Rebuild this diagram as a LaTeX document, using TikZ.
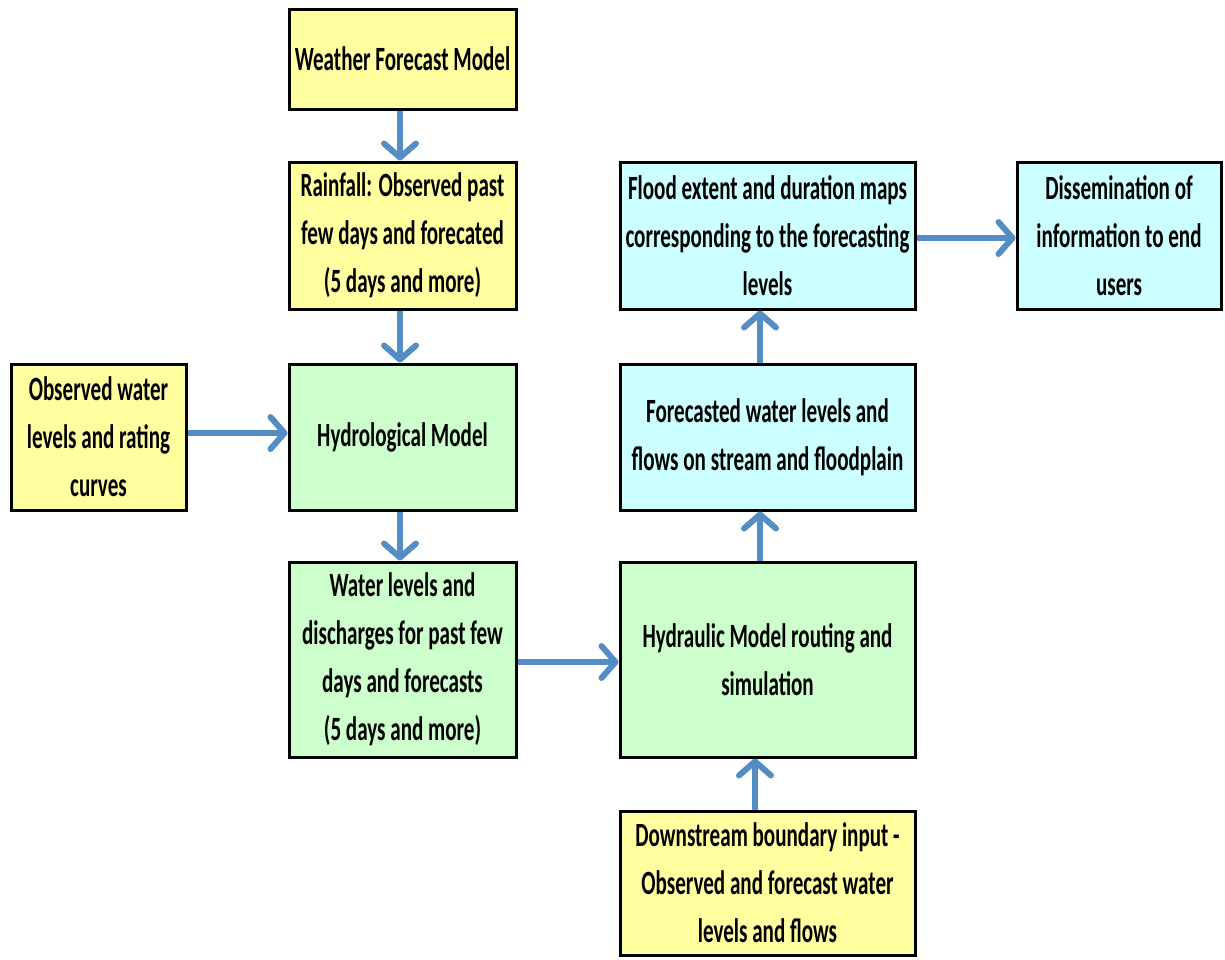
\documentclass[tikz,border=0pt]{standalone}
\usepackage{fontspec}
\newfontfamily\boxfont{Carlito}[FakeStretch=0.62]
\usetikzlibrary{arrows.meta}
\definecolor{boxyellow}{RGB}{255,255,160}
\definecolor{boxgreen}{RGB}{204,255,204}
\definecolor{boxcyan}{RGB}{204,255,255}
\definecolor{flowblue}{RGB}{84,141,196}
\begin{document}
\begin{tikzpicture}[x=1pt,y=-1pt,
  box/.style={draw=black, line width=3pt, rectangle, align=center, inner sep=0pt,
    font=\boxfont\bfseries\fontsize{34}{48}\selectfont},
  yel/.style={box, fill=boxyellow},
  grn/.style={box, fill=boxgreen},
  cyn/.style={box, fill=boxcyan},
  flow/.style={draw=flowblue, line width=6pt,
    -{Straight Barb[length=14pt,width=32pt,round]}}]
\useasboundingbox (0,0) rectangle (1225,959);

% left column
\node[yel, minimum width=227pt, minimum height=100pt] (wfm) at (402.5,59) {Weather Forecast Model};
\node[yel, minimum width=227pt, minimum height=147pt] (rain) at (402.5,235.5)
  {Rainfall: Observed past\\few days and forecated\\(5 days and more)};
\node[yel, minimum width=175pt, minimum height=146pt] (obs) at (98.5,437)
  {Observed water\\levels and rating\\curves};
\node[grn, minimum width=227pt, minimum height=146pt] (hyd) at (402.5,437) {Hydrological Model};
\node[grn, minimum width=227pt, minimum height=195pt] (wl) at (402.5,659.5)
  {Water levels and\\discharges for past few\\days and forecasts\\(5 days and more)};

% right column
\node[grn, minimum width=295pt, minimum height=195pt] (hyr) at (767.5,659.5)
  {Hydraulic Model routing and\\simulation};
\node[yel, minimum width=295pt, minimum height=144pt] (down) at (767.5,883)
  {Downstream boundary input -\\Observed and forecast water\\levels and flows};
\node[cyn, minimum width=295pt, minimum height=146pt] (fwl) at (767.5,437)
  {Forecasted water levels and\\flows on stream and floodplain};
\node[cyn, minimum width=295pt, minimum height=147pt] (flood) at (767.5,235.5)
  {Flood extent and duration maps\\corresponding to the forecasting\\levels};
\node[cyn, minimum width=204pt, minimum height=147pt] (diss) at (1119,235.5)
  {Dissemination of\\information to end\\users};

% flow connectors
\draw[flow] ([xshift=-2.5pt]wfm.south) -- ([xshift=-2.5pt]rain.north);
\draw[flow] ([xshift=-2.5pt]rain.south) -- ([xshift=-2.5pt]hyd.north);
\draw[flow] ([yshift=4pt]obs.east) -- ([yshift=4pt]hyd.west);
\draw[flow] ([xshift=-2.5pt]hyd.south) -- ([xshift=-2.5pt]wl.north);
\draw[flow] ([yshift=-2.5pt]wl.east) -- ([yshift=-2.5pt]hyr.west);
\draw[flow] ([xshift=-12.5pt]down.north) -- ([xshift=-12.5pt]hyr.south);
\draw[flow] ([xshift=-7.5pt]hyr.north) -- ([xshift=-7.5pt]fwl.south);
\draw[flow] ([xshift=-7.5pt]fwl.north) -- ([xshift=-7.5pt]flood.south);
\draw[flow] ([yshift=-2.5pt]flood.east) -- ([yshift=-2.5pt]diss.west);
\end{tikzpicture}
\end{document}
